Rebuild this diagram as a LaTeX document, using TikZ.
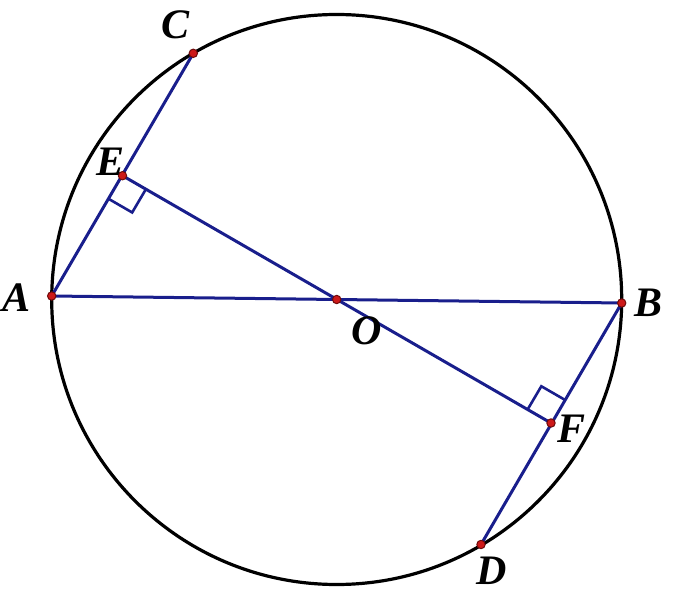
\documentclass[tikz,border=0pt]{standalone}
\usepackage{fontspec}
\setmainfont{Liberation Serif}
\usetikzlibrary{calc}
\definecolor{seg}{RGB}{25,30,140}
\definecolor{dotred}{RGB}{205,25,25}
\definecolor{dotrim}{RGB}{110,10,10}
\tikzset{
  seg/.style={draw=seg,line width=3pt},
  rim/.style={draw=black,line width=3.2pt},
  pt/.style={fill=dotred,draw=dotrim,line width=1pt},
  lbl/.style={font=\fontsize{42}{42}\selectfont\bfseries\itshape,inner sep=0pt}
}
\begin{document}
\begin{tikzpicture}[x=1pt,y=-1pt]
\useasboundingbox (0,0) rectangle (674,612);
\coordinate (O) at (336.7,299.5);
\coordinate (A) at (51.7,296);
\coordinate (B) at (621.7,303);
\coordinate (C) at (193.3,53.3);
\coordinate (D) at (481,544.5);
\coordinate (E) at (122.5,175.7);
\coordinate (F) at (551,423);
\draw[rim] (O) circle (285);
\draw[seg] (A) -- (B);
\draw[seg] (A) -- (C);
\draw[seg] (B) -- (D);
\draw[seg] (E) -- (F);
\coordinate (E1) at ($(E)!27pt!(A)$);
\coordinate (E2) at ($(E)!27pt!(O)$);
\coordinate (E3) at ($(E1)+(E2)-(E)$);
\draw[seg,line width=2.6pt] (E1) -- (E3) -- (E2);
\coordinate (F1) at ($(F)!27pt!(B)$);
\coordinate (F2) at ($(F)!27pt!(O)$);
\coordinate (F3) at ($(F1)+(F2)-(F)$);
\draw[seg,line width=2.6pt] (F1) -- (F3) -- (F2);
\foreach \p in {A,B,C,D,E,F,O} \path[pt] (\p) circle (4.2);
\node[lbl] (lC) at (176,25) {C};
\node[lbl] (lE) at (111,162) {E};
\node[lbl] (lA) at (17,298) {A};
\node[lbl] (lB) at (648,303) {B};
\node[lbl] (lO) at (367,331) {O};
\node[lbl] (lF) at (571,429) {F};
\node[lbl] (lD) at (492,571) {D};
\end{tikzpicture}
\end{document}
